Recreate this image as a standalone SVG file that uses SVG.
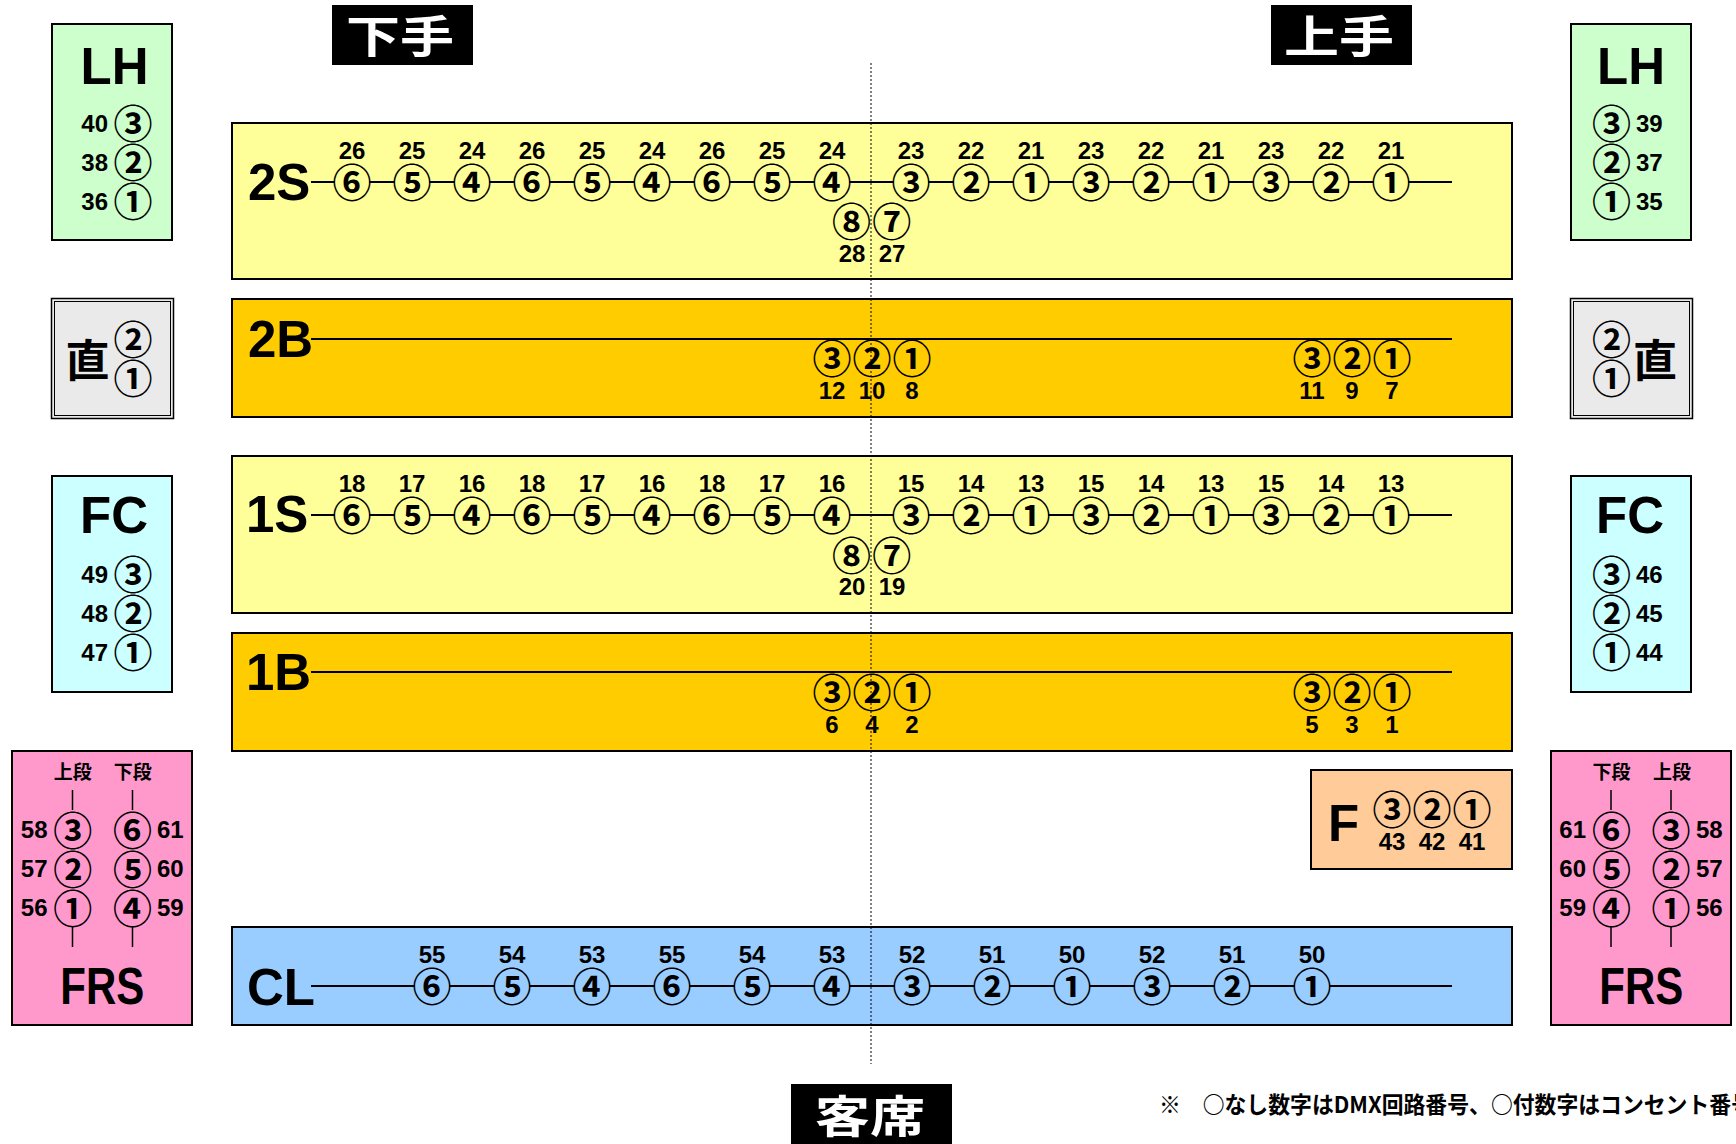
<svg xmlns="http://www.w3.org/2000/svg" width="1736" height="1144" viewBox="0 0 1736 1144">
<style>
.bx{stroke:#000;stroke-width:2}
.num{font-family:"Liberation Sans",Arial,sans-serif;font-weight:bold;font-size:24px;text-anchor:middle;fill:#000}
.nl{text-anchor:end}
.ns{text-anchor:start}
.cn{font-family:"Noto Sans CJK JP","Noto Sans CJK SC",sans-serif;font-weight:bold;font-size:39px;text-anchor:middle;dominant-baseline:central;fill:#000}
.big{font-family:"Liberation Sans",Arial,sans-serif;font-weight:bold;font-size:51px;fill:#000}
.jp{font-family:"Noto Sans CJK JP","Noto Sans CJK SC",sans-serif;font-weight:bold;fill:#000}
.ttl{font-family:"Noto Sans CJK JP","Noto Sans CJK SC",sans-serif;font-weight:bold;font-size:44px;fill:#fff;text-anchor:middle;dominant-baseline:central}
.conn{stroke:#000;stroke-width:2;fill:none}
.tick{stroke:#000;stroke-width:1.5;fill:none}
</style>
<rect width="1736" height="1144" fill="#fff"/>

<g id="shimote">
<rect x="332" y="5" width="141" height="60" fill="#000"/>
<text class="ttl" x="400" y="34" textLength="108" lengthAdjust="spacingAndGlyphs">下手</text>
</g>
<g id="kamite">
<rect x="1271" y="5" width="141" height="60" fill="#000"/>
<text class="ttl" x="1339" y="34" textLength="110" lengthAdjust="spacingAndGlyphs">上手</text>
</g>
<g id="kyakuseki">
<rect x="791" y="1084" width="161" height="60" fill="#000"/>
<text class="ttl" x="870" y="1114" textLength="110" lengthAdjust="spacingAndGlyphs">客席</text>
</g>

<g id="lh-left">
<rect class="bx" x="52" y="24" width="120" height="216" fill="#CCFFCC"/>
<text class="big" x="114.5" y="83.5" font-size="56" text-anchor="middle" textLength="68" lengthAdjust="spacingAndGlyphs">LH</text>
<text class="num nl" x="108" y="131.5">40</text><text class="cn" x="133" y="120.7">③</text>
<text class="num nl" x="108" y="170.5">38</text><text class="cn" x="133" y="159.7">②</text>
<text class="num nl" x="108" y="209.5">36</text><text class="cn" x="133" y="198.7">①</text>
</g>
<g id="lh-right">
<rect class="bx" x="1571" y="24" width="120" height="216" fill="#CCFFCC"/>
<text class="big" x="1631" y="83.5" font-size="56" text-anchor="middle" textLength="68" lengthAdjust="spacingAndGlyphs">LH</text>
<text class="cn" x="1611.5" y="120.7">③</text><text class="num ns" x="1636" y="131.5">39</text>
<text class="cn" x="1611.5" y="159.7">②</text><text class="num ns" x="1636" y="170.5">37</text>
<text class="cn" x="1611.5" y="198.7">①</text><text class="num ns" x="1636" y="209.5">35</text>
</g>

<g id="choku-left">
<rect x="51.5" y="298.5" width="122" height="120" fill="#EAEAEA" stroke="#000" stroke-width="1.5"/>
<rect x="54.5" y="301.5" width="116" height="114" fill="none" stroke="#000" stroke-width="1"/>
<text class="jp" x="87.5" y="358" font-size="44" text-anchor="middle" dominant-baseline="central">直</text>
<text class="cn" x="133" y="337">②</text>
<text class="cn" x="133" y="376.3">①</text>
</g>
<g id="choku-right">
<rect x="1570.5" y="298.5" width="122" height="120" fill="#EAEAEA" stroke="#000" stroke-width="1.5"/>
<rect x="1573.5" y="301.5" width="116" height="114" fill="none" stroke="#000" stroke-width="1"/>
<text class="jp" x="1655" y="358" font-size="44" text-anchor="middle" dominant-baseline="central">直</text>
<text class="cn" x="1611.5" y="337">②</text>
<text class="cn" x="1611.5" y="376.3">①</text>
</g>

<g id="fc-left">
<rect class="bx" x="52" y="476" width="120" height="216" fill="#CCFFFF"/>
<text class="big" x="114" y="533.3" text-anchor="middle">FC</text>
<text class="num nl" x="108" y="583">49</text><text class="cn" x="133" y="572">③</text>
<text class="num nl" x="108" y="622.3">48</text><text class="cn" x="133" y="611.3">②</text>
<text class="num nl" x="108" y="661.3">47</text><text class="cn" x="133" y="650.3">①</text>
</g>
<g id="fc-right">
<rect class="bx" x="1571" y="476" width="120" height="216" fill="#CCFFFF"/>
<text class="big" x="1630" y="533.3" text-anchor="middle">FC</text>
<text class="cn" x="1611.5" y="572">③</text><text class="num ns" x="1636" y="583">46</text>
<text class="cn" x="1611.5" y="611.3">②</text><text class="num ns" x="1636" y="622.3">45</text>
<text class="cn" x="1611.5" y="650.3">①</text><text class="num ns" x="1636" y="661.3">44</text>
</g>

<g id="frs-left">
<rect class="bx" x="12" y="751" width="180" height="274" fill="#FF99CC"/>
<text class="jp" x="72.7" y="770.5" font-size="19" text-anchor="middle" dominant-baseline="central">上段</text>
<text class="jp" x="132.7" y="770.5" font-size="19" text-anchor="middle" dominant-baseline="central">下段</text>
<path class="tick" d="M72.5 790V810M132.5 790V810M72.5 927V947M132.5 927V947"/>
<text class="num nl" x="47.5" y="838.3">58</text><text class="cn" x="72.7" y="827.5">③</text><text class="cn" x="132.5" y="827.5">⑥</text><text class="num ns" x="157" y="838.3">61</text>
<text class="num nl" x="47.5" y="877.3">57</text><text class="cn" x="72.7" y="866.5">②</text><text class="cn" x="132.5" y="866.5">⑤</text><text class="num ns" x="157" y="877.3">60</text>
<text class="num nl" x="47.5" y="916.3">56</text><text class="cn" x="72.7" y="905.5">①</text><text class="cn" x="132.5" y="905.5">④</text><text class="num ns" x="157" y="916.3">59</text>
<text class="big" x="102.3" y="1004.3" text-anchor="middle" textLength="84" lengthAdjust="spacingAndGlyphs">FRS</text>
</g>
<g id="frs-right">
<rect class="bx" x="1551" y="751" width="180" height="274" fill="#FF99CC"/>
<text class="jp" x="1611.5" y="770.5" font-size="19" text-anchor="middle" dominant-baseline="central">下段</text>
<text class="jp" x="1672" y="770.5" font-size="19" text-anchor="middle" dominant-baseline="central">上段</text>
<path class="tick" d="M1611 790V810M1671 790V810M1611 927V947M1671 927V947"/>
<text class="num nl" x="1586" y="838.3">61</text><text class="cn" x="1611.5" y="827.5">⑥</text><text class="cn" x="1671" y="827.5">③</text><text class="num ns" x="1696" y="838.3">58</text>
<text class="num nl" x="1586" y="877.3">60</text><text class="cn" x="1611.5" y="866.5">⑤</text><text class="cn" x="1671" y="866.5">②</text><text class="num ns" x="1696" y="877.3">57</text>
<text class="num nl" x="1586" y="916.3">59</text><text class="cn" x="1611.5" y="905.5">④</text><text class="cn" x="1671" y="905.5">①</text><text class="num ns" x="1696" y="916.3">56</text>
<text class="big" x="1641.3" y="1004.3" text-anchor="middle" textLength="84" lengthAdjust="spacingAndGlyphs">FRS</text>
</g>

<g id="row-2s">
<rect class="bx" x="232" y="123" width="1280" height="156" fill="#FFFF99"/>
<text class="big" x="248" y="199.5">2S</text>
<g>
<text class="num" x="352" y="159">26</text><text class="num" x="412" y="159">25</text><text class="num" x="472" y="159">24</text>
<text class="num" x="532" y="159">26</text><text class="num" x="592" y="159">25</text><text class="num" x="652" y="159">24</text>
<text class="num" x="712" y="159">26</text><text class="num" x="772" y="159">25</text><text class="num" x="832" y="159">24</text>
<text class="num" x="911" y="159">23</text><text class="num" x="971" y="159">22</text><text class="num" x="1031" y="159">21</text>
<text class="num" x="1091" y="159">23</text><text class="num" x="1151" y="159">22</text><text class="num" x="1211" y="159">21</text>
<text class="num" x="1271" y="159">23</text><text class="num" x="1331" y="159">22</text><text class="num" x="1391" y="159">21</text>
</g>
<g>
<text class="cn" x="352" y="180">⑥</text><text class="cn" x="412" y="180">⑤</text><text class="cn" x="472" y="180">④</text>
<text class="cn" x="532" y="180">⑥</text><text class="cn" x="592" y="180">⑤</text><text class="cn" x="652" y="180">④</text>
<text class="cn" x="712" y="180">⑥</text><text class="cn" x="772" y="180">⑤</text><text class="cn" x="832" y="180">④</text>
<text class="cn" x="911" y="180">③</text><text class="cn" x="971" y="180">②</text><text class="cn" x="1031" y="180">①</text>
<text class="cn" x="1091" y="180">③</text><text class="cn" x="1151" y="180">②</text><text class="cn" x="1211" y="180">①</text>
<text class="cn" x="1271" y="180">③</text><text class="cn" x="1331" y="180">②</text><text class="cn" x="1391" y="180">①</text>
</g>
<text class="cn" x="851.5" y="219">⑧</text><text class="cn" x="891.7" y="219">⑦</text>
<text class="num" x="852" y="262">28</text><text class="num" x="892" y="262">27</text>
</g>

<g id="row-2b">
<rect class="bx" x="232" y="299" width="1280" height="118" fill="#FFCC00"/>
<text class="big" x="248" y="357.3">2B</text>
<text class="cn" x="832" y="356.3">③</text><text class="cn" x="872" y="356.3">②</text><text class="cn" x="912" y="356.3">①</text>
<text class="num" x="832" y="399">12</text><text class="num" x="872" y="399">10</text><text class="num" x="912" y="399">8</text>
<text class="cn" x="1312" y="356.3">③</text><text class="cn" x="1352" y="356.3">②</text><text class="cn" x="1392" y="356.3">①</text>
<text class="num" x="1312" y="399">11</text><text class="num" x="1352" y="399">9</text><text class="num" x="1392" y="399">7</text>
</g>

<g id="row-1s">
<rect class="bx" x="232" y="456" width="1280" height="157" fill="#FFFF99"/>
<text class="big" x="246" y="532.3">1S</text>
<g>
<text class="num" x="352" y="492">18</text><text class="num" x="412" y="492">17</text><text class="num" x="472" y="492">16</text>
<text class="num" x="532" y="492">18</text><text class="num" x="592" y="492">17</text><text class="num" x="652" y="492">16</text>
<text class="num" x="712" y="492">18</text><text class="num" x="772" y="492">17</text><text class="num" x="832" y="492">16</text>
<text class="num" x="911" y="492">15</text><text class="num" x="971" y="492">14</text><text class="num" x="1031" y="492">13</text>
<text class="num" x="1091" y="492">15</text><text class="num" x="1151" y="492">14</text><text class="num" x="1211" y="492">13</text>
<text class="num" x="1271" y="492">15</text><text class="num" x="1331" y="492">14</text><text class="num" x="1391" y="492">13</text>
</g>
<g>
<text class="cn" x="352" y="513">⑥</text><text class="cn" x="412" y="513">⑤</text><text class="cn" x="472" y="513">④</text>
<text class="cn" x="532" y="513">⑥</text><text class="cn" x="592" y="513">⑤</text><text class="cn" x="652" y="513">④</text>
<text class="cn" x="712" y="513">⑥</text><text class="cn" x="772" y="513">⑤</text><text class="cn" x="832" y="513">④</text>
<text class="cn" x="911" y="513">③</text><text class="cn" x="971" y="513">②</text><text class="cn" x="1031" y="513">①</text>
<text class="cn" x="1091" y="513">③</text><text class="cn" x="1151" y="513">②</text><text class="cn" x="1211" y="513">①</text>
<text class="cn" x="1271" y="513">③</text><text class="cn" x="1331" y="513">②</text><text class="cn" x="1391" y="513">①</text>
</g>
<text class="cn" x="851.5" y="553">⑧</text><text class="cn" x="891.7" y="553">⑦</text>
<text class="num" x="852" y="595">20</text><text class="num" x="892" y="595">19</text>
</g>

<g id="row-1b">
<rect class="bx" x="232" y="633" width="1280" height="118" fill="#FFCC00"/>
<text class="big" x="246" y="690">1B</text>
<text class="cn" x="832" y="690">③</text><text class="cn" x="872" y="690">②</text><text class="cn" x="912" y="690">①</text>
<text class="num" x="832" y="733">6</text><text class="num" x="872" y="733">4</text><text class="num" x="912" y="733">2</text>
<text class="cn" x="1312" y="690">③</text><text class="cn" x="1352" y="690">②</text><text class="cn" x="1392" y="690">①</text>
<text class="num" x="1312" y="733">5</text><text class="num" x="1352" y="733">3</text><text class="num" x="1392" y="733">1</text>
</g>

<g id="f-box">
<rect class="bx" x="1311" y="770" width="201" height="99" fill="#FFCC99"/>
<text class="big" x="1328" y="841" font-size="53">F</text>
<text class="cn" x="1392" y="807.3">③</text><text class="cn" x="1432" y="807.3">②</text><text class="cn" x="1472" y="807.3">①</text>
<text class="num" x="1392" y="850">43</text><text class="num" x="1432" y="850">42</text><text class="num" x="1472" y="850">41</text>
</g>

<g id="row-cl">
<rect class="bx" x="232" y="927" width="1280" height="98" fill="#99CCFF"/>
<text class="big" x="247" y="1005">CL</text>
<text class="num" x="432" y="963">55</text><text class="num" x="512" y="963">54</text><text class="num" x="592" y="963">53</text>
<text class="num" x="672" y="963">55</text><text class="num" x="752" y="963">54</text><text class="num" x="832" y="963">53</text>
<text class="num" x="912" y="963">52</text><text class="num" x="992" y="963">51</text><text class="num" x="1072" y="963">50</text>
<text class="num" x="1152" y="963">52</text><text class="num" x="1232" y="963">51</text><text class="num" x="1312" y="963">50</text>
<text class="cn" x="432" y="984">⑥</text><text class="cn" x="512" y="984">⑤</text><text class="cn" x="592" y="984">④</text>
<text class="cn" x="672" y="984">⑥</text><text class="cn" x="752" y="984">⑤</text><text class="cn" x="832" y="984">④</text>
<text class="cn" x="912" y="984">③</text><text class="cn" x="992" y="984">②</text><text class="cn" x="1072" y="984">①</text>
<text class="cn" x="1152" y="984">③</text><text class="cn" x="1232" y="984">②</text><text class="cn" x="1312" y="984">①</text>
</g>

<g id="connectors">
<path class="conn" d="M311 182H335M369 182H395M429 182H455M489 182H515M549 182H575M609 182H635M669 182H695M729 182H755M789 182H815M849 182H894M928 182H954M988 182H1014M1048 182H1074M1108 182H1134M1168 182H1194M1228 182H1254M1288 182H1314M1348 182H1374M1408 182H1452"/>
<path class="conn" d="M311 515H335M369 515H395M429 515H455M489 515H515M549 515H575M609 515H635M669 515H695M729 515H755M789 515H815M849 515H894M928 515H954M988 515H1014M1048 515H1074M1108 515H1134M1168 515H1194M1228 515H1254M1288 515H1314M1348 515H1374M1408 515H1452"/>
<path class="conn" d="M311 339H1452"/>
<path class="conn" d="M311 672H1452"/>
<path class="conn" d="M311 986H415M449 986H495M529 986H575M609 986H655M689 986H735M769 986H815M849 986H895M929 986H975M1009 986H1055M1089 986H1135M1169 986H1215M1249 986H1295M1329 986H1452"/>
</g>

<g id="centerline">
<path d="M871 63V1064" stroke="#000" stroke-width="1" stroke-dasharray="2 2" fill="none"/>
</g>

<g id="note">
<text class="jp" x="1159" y="1113" font-size="23" textLength="594" lengthAdjust="spacingAndGlyphs">※　○なし数字はDMX回路番号、○付数字はコンセント番号</text>
</g>
</svg>
